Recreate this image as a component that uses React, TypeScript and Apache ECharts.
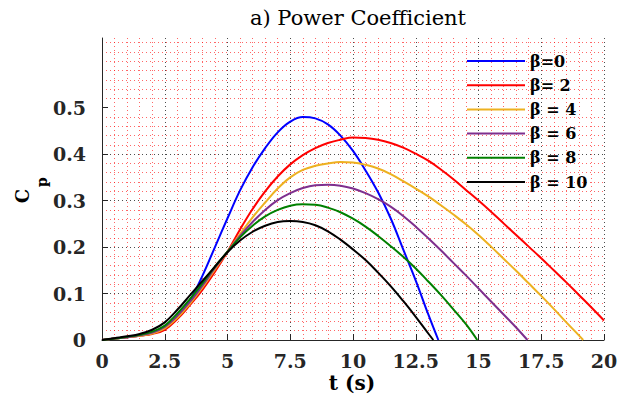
import React, { useEffect, useRef } from "react";
import * as echarts from "echarts";

// t values (s) shared by all curves
const T = [0, 0.5, 1, 1.5, 2, 2.5, 3, 3.5, 4, 4.5, 5, 5.5, 6, 6.5, 7, 7.5, 8, 8.5, 9, 9.5, 10,
  10.5, 11, 11.5, 12, 12.5, 13, 13.5, 14, 14.5, 15, 15.5, 16, 16.5, 17, 17.5, 18, 18.5, 19, 19.5, 20];

const CP_B0 = [0, 0.003, 0.006, 0.009, 0.014, 0.026, 0.049, 0.085, 0.138, 0.2, 0.262, 0.322, 0.372,
  0.413, 0.447, 0.47, 0.48, 0.477, 0.464, 0.44, 0.407, 0.365, 0.318, 0.262, 0.195, 0.128, 0.055];
const CP_B2 = [0, 0.003, 0.006, 0.009, 0.013, 0.022, 0.045, 0.075, 0.108, 0.147, 0.19, 0.238, 0.282,
  0.32, 0.352, 0.378, 0.398, 0.413, 0.424, 0.431, 0.436, 0.435, 0.431, 0.424, 0.414, 0.401, 0.386,
  0.367, 0.346, 0.323, 0.3, 0.276, 0.251, 0.226, 0.201, 0.176, 0.15, 0.124, 0.097, 0.07, 0.042];
const CP_B4 = [0, 0.003, 0.006, 0.009, 0.014, 0.025, 0.048, 0.078, 0.113, 0.152, 0.19, 0.228, 0.264,
  0.296, 0.326, 0.35, 0.366, 0.375, 0.38, 0.383, 0.382, 0.377, 0.369, 0.357, 0.342, 0.326, 0.309,
  0.29, 0.27, 0.249, 0.226, 0.201, 0.175, 0.149, 0.122, 0.095, 0.067, 0.038, 0.01];
const CP_B6 = [0, 0.003, 0.006, 0.01, 0.016, 0.028, 0.052, 0.082, 0.117, 0.155, 0.19, 0.224, 0.254,
  0.28, 0.301, 0.316, 0.327, 0.333, 0.334, 0.332, 0.326, 0.316, 0.303, 0.287, 0.267, 0.244, 0.219,
  0.193, 0.166, 0.139, 0.111, 0.083, 0.055, 0.027];
const CP_B8 = [0, 0.003, 0.007, 0.011, 0.018, 0.031, 0.057, 0.088, 0.122, 0.158, 0.19, 0.221, 0.246,
  0.266, 0.28, 0.289, 0.292, 0.291, 0.285, 0.275, 0.261, 0.244, 0.224, 0.202, 0.179, 0.154, 0.126,
  0.097, 0.066, 0.034];
const CP_B10 = [0, 0.004, 0.008, 0.013, 0.022, 0.038, 0.065, 0.096, 0.127, 0.158, 0.189, 0.214, 0.233,
  0.246, 0.254, 0.256, 0.254, 0.247, 0.234, 0.216, 0.195, 0.172, 0.145, 0.116, 0.084, 0.05, 0.014];

// t where each curve reaches Cp = 0 (null: does not reach it within the plot)
const ZERO_T = [13.4, null, 19.17, 16.95, 14.95, 13.2];

const NAMES = ["β=0", "β= 2", "β = 4", "β = 6", "β = 8", "β = 10"];
const COLORS = ["#0000ff", "#ff0000", "#edb120", "#7e2f8e", "#008000", "#000000"];
const VALUES = [CP_B0, CP_B2, CP_B4, CP_B6, CP_B8, CP_B10];

const X_TICKS = [0, 2.5, 5, 7.5, 10, 12.5, 15, 17.5, 20];
const Y_TICKS = [0, 0.1, 0.2, 0.3, 0.4, 0.5];

const FONT = "DejaVu Serif";
const AXIS_COLOR = "#262626";
const MAJOR_GRID = "rgba(0,0,0,0.7)";
const MINOR_GRID = "rgba(255,0,0,0.6)";

function buildSeries(vals: number[], zero: number | null) {
  const pts: [number, number][] = vals.map((v, i) => [T[i], v]);
  if (zero != null) pts.push([zero, 0]);
  return pts;
}

export default function App() {
  const ref = useRef<HTMLDivElement>(null);
  useEffect(() => {
    if (!ref.current) return;
    const chart = echarts.init(ref.current, undefined, { renderer: "svg" });

    // secondary y axis draws the fine red grid every 0.02; skip positions of major lines
    const minorYColors: string[] = [];
    for (let j = 1; j <= 32; j++) {
      const isMajor = j % 5 === 0 && j <= 25;
      minorYColors.push(isMajor ? "rgba(0,0,0,0)" : MINOR_GRID);
    }
    const majorYColors = [MAJOR_GRID, MAJOR_GRID, MAJOR_GRID, MAJOR_GRID, MAJOR_GRID, "rgba(0,0,0,0)"];

    chart.setOption({
      animation: false,
      backgroundColor: "#ffffff",
      title: {
        text: "a) Power Coefficient",
        left: 353,
        top: 2,
        textAlign: "center",
        textStyle: { fontFamily: FONT, fontSize: 21, fontWeight: "normal", color: "#000" },
      },
      grid: { left: 102, right: 28, top: 38, bottom: 70, containLabel: false },
      legend: {
        orient: "vertical",
        left: 467,
        top: 49,
        padding: 0,
        icon: "rect",
        itemWidth: 58,
        itemHeight: 2,
        itemGap: 0.2,
        data: NAMES,
        textStyle: { fontFamily: FONT, fontSize: 16, fontWeight: "bold", color: "#000", lineHeight: 24 },
      },
      xAxis: [
        {
          type: "value",
          min: 0,
          max: 20,
          interval: 2.5,
          axisLine: { show: true, lineStyle: { color: AXIS_COLOR, width: 1 } },
          axisTick: { show: true, inside: true, length: 6, lineStyle: { color: AXIS_COLOR }, customValues: X_TICKS },
          axisLabel: {
            show: true,
            margin: 11,
            fontFamily: FONT,
            fontSize: 19,
            fontWeight: "bold",
            color: AXIS_COLOR,
            customValues: X_TICKS,
          },
          splitLine: {
            show: true,
            showMinLine: false,
            showMaxLine: true,
            lineStyle: { color: MAJOR_GRID, type: [1, 3], width: 1 },
          },
          minorTick: { show: false, splitNumber: 5 },
          minorSplitLine: { show: true, lineStyle: { color: MINOR_GRID, type: [1, 3], width: 1 } },
        },
      ],
      yAxis: [
        {
          type: "value",
          min: 0,
          max: 0.65,
          interval: 0.1,
          axisLine: { show: true, lineStyle: { color: AXIS_COLOR, width: 1 } },
          axisTick: { show: true, inside: true, length: 6, lineStyle: { color: AXIS_COLOR }, customValues: Y_TICKS },
          axisLabel: {
            show: true,
            margin: 16,
            fontFamily: FONT,
            fontSize: 19,
            fontWeight: "bold",
            color: AXIS_COLOR,
            customValues: Y_TICKS,
            formatter: (v: number) => (v > 0.55 ? "" : String(Math.round(v * 10) / 10)),
          },
          splitLine: {
            show: true,
            showMinLine: false,
            showMaxLine: false,
            lineStyle: { color: majorYColors, type: [1, 3], width: 1 },
          },
        },
        {
          type: "value",
          min: 0,
          max: 0.65,
          interval: 0.02,
          position: "right",
          axisLine: { show: false },
          axisTick: { show: false },
          axisLabel: { show: false },
          splitLine: {
            show: true,
            showMinLine: false,
            showMaxLine: false,
            lineStyle: { color: minorYColors, type: [1, 3], width: 1 },
          },
        },
      ],
      graphic: [
        {
          type: "text",
          x: 22,
          y: 196,
          rotation: Math.PI / 2,
          style: { text: "C", fontFamily: FONT, fontSize: 18, fontWeight: "bold", fill: "#000", align: "center", verticalAlign: "middle" },
        },
        {
          type: "text",
          x: 42,
          y: 182,
          rotation: Math.PI / 2,
          style: { text: "p", fontFamily: FONT, fontSize: 14, fontWeight: "bold", fill: "#000", align: "center", verticalAlign: "middle" },
        },
        {
          type: "text",
          x: 352,
          y: 383,
          style: { text: "t (s)", fontFamily: FONT, fontSize: 20, fontWeight: "bold", fill: "#000", align: "center", verticalAlign: "middle" },
        },
      ],
      series: VALUES.map((vals, i) => ({
        name: NAMES[i],
        type: "line",
        xAxisIndex: 0,
        yAxisIndex: 0,
        data: buildSeries(vals, ZERO_T[i]),
        smooth: 0.4,
        symbol: "none",
        showSymbol: false,
        clip: true,
        lineStyle: { color: COLORS[i], width: 2 },
        itemStyle: { color: COLORS[i] },
        z: 3,
      })),
    });
    return () => chart.dispose();
  }, []);
  return <div ref={ref} style={{ width: 632, height: 410, position: "absolute", left: 0, top: 0 }} />;
}
